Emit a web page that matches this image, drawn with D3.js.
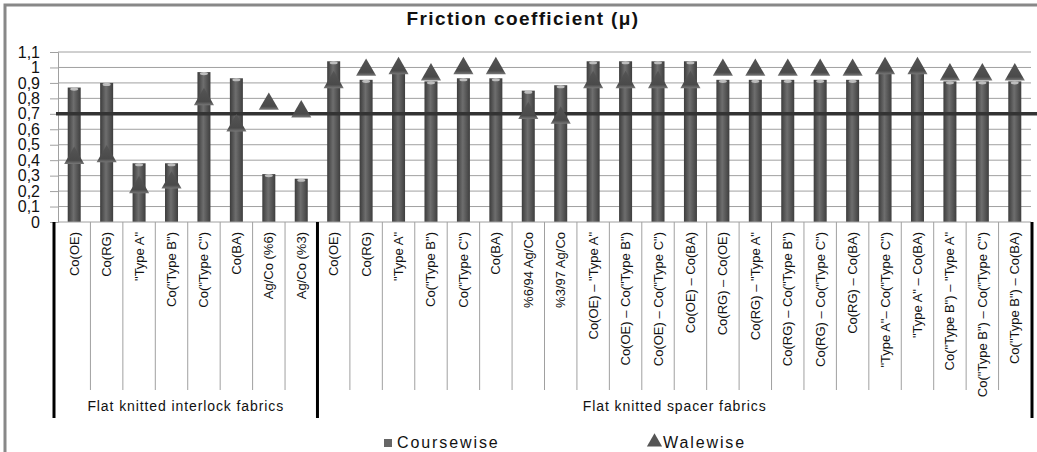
<!DOCTYPE html>
<html>
<head>
<meta charset="utf-8">
<script src="https://cdn.jsdelivr.net/npm/d3@7"></script>
<style>
  body { margin: 0; background: #fff; }
  text { font-family: "Liberation Sans", Arial, sans-serif; }
</style>
</head>
<body>
<svg id="chart" width="1037" height="452"></svg>
<script>
// categories, two groups
let interlockLabels = ['Co(OE)', 'Co(RG)', '"Type A"', 'Co("Type B")', 'Co("Type C")', 'Co(BA)', 'Ag/Co (%6)', 'Ag/Co (%3)'];
let spacerLabels = [
  'Co(OE)', 'Co(RG)', '"Type A"', 'Co("Type B")', 'Co("Type C")', 'Co(BA)',
  '%6/94  Ag/Co', '%3/97  Ag/Co',
  'Co(OE) \u2013 "Type A"', 'Co(OE) \u2013 Co("Type B")', 'Co(OE) \u2013 Co("Type C")', 'Co(OE) \u2013 Co(BA)',
  'Co(RG) \u2013 Co(OE)', 'Co(RG) \u2013 "Type A"', 'Co(RG) \u2013 Co("Type B")', 'Co(RG) \u2013 Co("Type C")', 'Co(RG) \u2013 Co(BA)',
  '"Type A"\u2013 Co("Type C")', '"Type A" \u2013 Co(BA)',
  'Co("Type B") \u2013 "Type A"', 'Co("Type B") \u2013 Co("Type C")', 'Co("Type B") \u2013 Co(BA)'
];
let groupNames = ['Flat knitted interlock fabrics', 'Flat knitted spacer fabrics'];

// values
let coursewise = [0.87, 0.90, 0.38, 0.38, 0.97, 0.93, 0.31, 0.28,
  1.04, 0.92, 0.98, 0.91, 0.93, 0.93, 0.85, 0.885,
  1.04, 1.04, 1.04, 1.04, 0.92, 0.92, 0.92, 0.92, 0.92, 0.98, 0.98, 0.91, 0.91, 0.91];
let walewise = [0.42, 0.43, 0.23, 0.26, 0.80, 0.63, 0.77, 0.72,
  0.91, 0.99, 1.00, 0.96, 1.00, 1.00, 0.71, 0.68,
  0.91, 0.91, 0.91, 0.91, 0.99, 0.99, 0.99, 0.99, 0.99, 1.00, 1.00, 0.96, 0.96, 0.96];
let yTicks = [0, 0.1, 0.2, 0.3, 0.4, 0.5, 0.6, 0.7, 0.8, 0.9, 1, 1.1];
let limit = 0.7;

let allLabels = interlockLabels.concat(spacerLabels);
let keys = allLabels.map((d, i) => i);

let svg = d3.select('#chart');
let plot = { left: 58, right: 1031, top: 52, bottom: 222 };

let x = d3.scaleBand().domain(keys).range([plot.left, plot.right]).paddingInner(0).paddingOuter(0);
let y = d3.scaleLinear().domain([0, 1.1]).range([plot.bottom, plot.top]);

// outer frame
svg.append('path')
  .attr('d', 'M5,452 V5 H1037')
  .attr('fill', 'none').attr('stroke', '#888').attr('stroke-width', 3);

// title
svg.append('text')
  .attr('x', 523).attr('y', 25)
  .attr('text-anchor', 'middle')
  .attr('font-size', 19).attr('font-weight', 'bold')
  .attr('letter-spacing', 1.4)
  .attr('fill', '#111')
  .text('Friction coefficient (\u03bc)');

// gridlines
svg.append('g').selectAll('line')
  .data(yTicks.filter(d => d > 0))
  .enter().append('line')
  .attr('x1', plot.left).attr('x2', plot.right)
  .attr('y1', d => y(d)).attr('y2', d => y(d))
  .attr('stroke', '#a0a0a0').attr('stroke-width', 1);

// y axis
let yAxis = d3.axisLeft(y)
  .tickValues(yTicks)
  .tickSize(8)
  .tickFormat(d => d3.format('.1~f')(d).replace('.', ','));
let ya = svg.append('g').attr('transform', `translate(${plot.left},0)`).call(yAxis);
ya.select('.domain').attr('stroke', '#a0a0a0');
ya.selectAll('.tick line').attr('stroke', '#a0a0a0');
ya.selectAll('.tick text')
  .attr('x', -18)
  .attr('font-size', 16).attr('fill', '#111')
  .attr('font-family', '"Liberation Sans", Arial, sans-serif');

// bar gradient
let defs = svg.append('defs');
let grad = defs.append('linearGradient').attr('id', 'barGrad').attr('x1', 0).attr('x2', 1).attr('y1', 0).attr('y2', 0);
grad.append('stop').attr('offset', '0%').attr('stop-color', '#3c3c3c');
grad.append('stop').attr('offset', '45%').attr('stop-color', '#6e6e6e');
grad.append('stop').attr('offset', '100%').attr('stop-color', '#3e3e3e');
let tgrad = defs.append('linearGradient').attr('id', 'triGrad').attr('x1', 0).attr('x2', 0).attr('y1', 0).attr('y2', 1);
tgrad.append('stop').attr('offset', '0%').attr('stop-color', '#555');
tgrad.append('stop').attr('offset', '80%').attr('stop-color', '#4a4a4a');
tgrad.append('stop').attr('offset', '100%').attr('stop-color', '#777');

let barW = 13;
let bars = svg.append('g');
bars.selectAll('rect')
  .data(coursewise)
  .enter().append('rect')
  .attr('x', (d, i) => x(i) + x.bandwidth() / 2 - barW / 2)
  .attr('width', barW)
  .attr('y', d => y(d))
  .attr('height', d => y(0) - y(d))
  .attr('fill', 'url(#barGrad)');
// cylinder cap
bars.selectAll('ellipse')
  .data(coursewise)
  .enter().append('ellipse')
  .attr('cx', (d, i) => x(i) + x.bandwidth() / 2)
  .attr('cy', d => y(d) + 1.5)
  .attr('rx', 4).attr('ry', 1.6)
  .attr('fill', '#bdbdbd');

// threshold line
svg.append('line')
  .attr('x1', plot.left - 2).attr('x2', 1037)
  .attr('y1', y(limit)).attr('y2', y(limit))
  .attr('stroke', '#333').attr('stroke-width', 3.5);

// walewise triangles
let tri = d3.symbol().type(d3.symbolTriangle).size(175);
svg.append('g').selectAll('path')
  .data(walewise)
  .enter().append('path')
  .attr('transform', (d, i) => `translate(${x(i) + x.bandwidth() / 2},${y(d) + 1})`)
  .attr('d', tri)
  .attr('fill', 'url(#triGrad)');

// category axis
svg.append('line')
  .attr('x1', plot.left).attr('x2', plot.right)
  .attr('y1', plot.bottom).attr('y2', plot.bottom)
  .attr('stroke', '#a0a0a0');

let nA = interlockLabels.length;
let innerEdges = keys.slice(1).filter(i => i !== nA).map(i => x(i));
svg.append('g').selectAll('line')
  .data(innerEdges)
  .enter().append('line')
  .attr('x1', d => d).attr('x2', d => d)
  .attr('y1', plot.bottom).attr('y2', 390)
  .attr('stroke', '#a0a0a0');

let groupEdges = [plot.left - 4, x(nA), plot.right + 1];
svg.append('g').selectAll('line')
  .data(groupEdges)
  .enter().append('line')
  .attr('x1', d => d).attr('x2', d => d)
  .attr('y1', plot.bottom).attr('y2', 418)
  .attr('stroke', '#000').attr('stroke-width', 3);

// rotated category labels
svg.append('g').selectAll('text')
  .data(allLabels)
  .enter().append('text')
  .attr('transform', (d, i) => `translate(${x(i) + x.bandwidth() / 2 + 4.5},232) rotate(-90)`)
  .attr('text-anchor', 'end')
  .attr('font-size', 13)
  .attr('fill', '#111')
  .text(d => d);

// group labels
let groupCenters = [(groupEdges[0] + groupEdges[1]) / 2, (groupEdges[1] + groupEdges[2]) / 2];
svg.append('g').selectAll('text')
  .data(groupNames)
  .enter().append('text')
  .attr('x', (d, i) => groupCenters[i])
  .attr('y', 411)
  .attr('text-anchor', 'middle')
  .attr('font-size', 14)
  .attr('letter-spacing', 0.9)
  .attr('fill', '#111')
  .text(d => d);

// legend
let leg = svg.append('g');
leg.append('rect').attr('x', 384).attr('y', 439).attr('width', 8).attr('height', 8).attr('fill', '#666');
leg.append('text').attr('x', 397).attr('y', 448).attr('font-size', 16).attr('letter-spacing', 1.9).attr('fill', '#111').text('Coursewise');
leg.append('path')
  .attr('transform', 'translate(654.5,442)')
  .attr('d', d3.symbol().type(d3.symbolTriangle).size(100))
  .attr('fill', '#555');
leg.append('text').attr('x', 663).attr('y', 448).attr('font-size', 16).attr('letter-spacing', 1.9).attr('fill', '#111').text('Walewise');
</script>
</body>
</html>
